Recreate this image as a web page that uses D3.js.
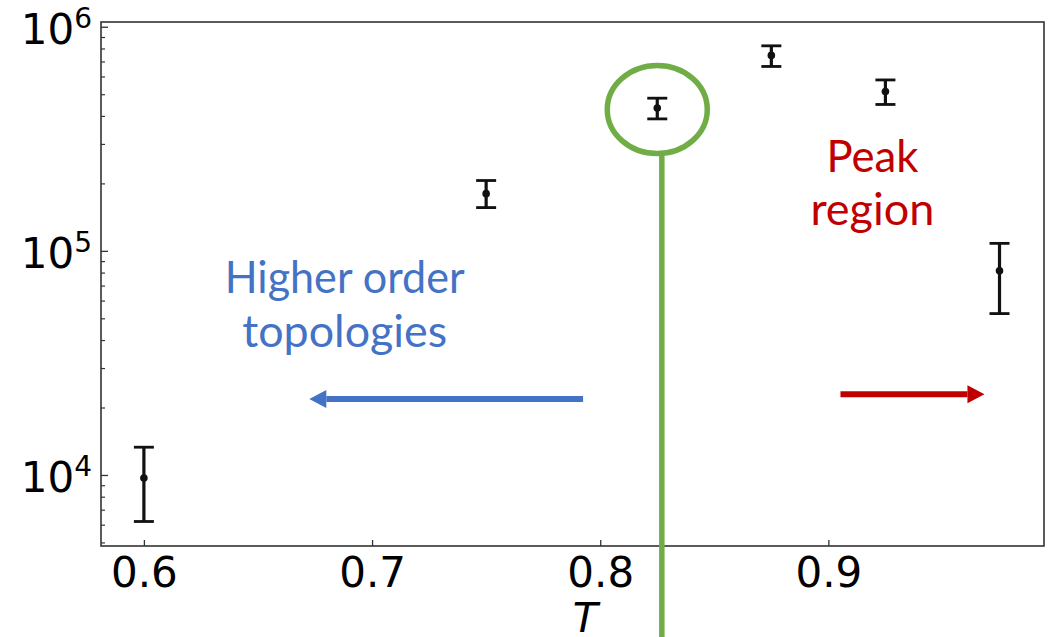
<!DOCTYPE html>
<html>
<head>
<meta charset="utf-8">
<script src="https://cdn.jsdelivr.net/npm/d3@7"></script>
<style>
  body { margin: 0; background: #fff; }
  svg { display: block; }
</style>
</head>
<body>
<div id="wrapper"></div>
<script>
// values
const temps = [0.6, 0.75, 0.825, 0.875, 0.925, 0.975];
const means = [9700, 180000, 434000, 745000, 514000, 81500];
const lows = [6200, 156000, 388000, 665000, 450000, 52500];
const highs = [13300, 206000, 480000, 822000, 579000, 108000];

const x_ticks = [0.6, 0.7, 0.8, 0.9];
const y_major = [1e4, 1e5, 1e6];
const y_exponents = ["4", "5", "6"];

// annotations, in data units
const highlight_T = 0.825;
const marker_line_T = 0.827;
const blue_arrow = { from: 0.7925, to: 0.6725, value: 21800 };
const red_arrow = { from: 0.9053, to: 0.9684, value: 22900 };
const blue_text = ["Higher order", "topologies"];
const red_text = ["Peak", "region"];

const dataset = temps.map((t, i) => ({ t: t, mean: means[i], low: lows[i], high: highs[i] }));

function drawChart() {
    const dimensions = {
        width: 1056,
        height: 637,
        margin: { top: 22, right: 12, bottom: 91, left: 101 }
    };
    dimensions.bounded_width = dimensions.width - dimensions.margin.left - dimensions.margin.right;
    dimensions.bounded_height = dimensions.height - dimensions.margin.top - dimensions.margin.bottom;

    const wrapper = d3.select("#wrapper")
        .append("svg")
        .attr("width", dimensions.width)
        .attr("height", dimensions.height);

    const bounds = wrapper.append("g")
        .attr("transform", `translate(${dimensions.margin.left},${dimensions.margin.top})`);

    const x_scale = d3.scaleLinear()
        .domain([0.5812, 0.9945])
        .range([0, dimensions.bounded_width]);

    const y_scale = d3.scaleLog()
        .domain([4820, 1.05e6])
        .range([dimensions.bounded_height, 0]);

    const tick_font = "'DejaVu Sans', sans-serif";
    const axis_color = "#333";

    // frame
    bounds.append("rect")
        .attr("width", dimensions.bounded_width)
        .attr("height", dimensions.bounded_height)
        .attr("fill", "none")
        .attr("stroke", axis_color)
        .attr("stroke-width", 1.6);

    // x axis, ticks pointing inward
    const x_axis = bounds.append("g")
        .attr("transform", `translate(0,${dimensions.bounded_height})`)
        .call(d3.axisBottom(x_scale).tickValues(x_ticks).tickSize(-6).tickPadding(11).tickFormat(d3.format(".1f")));
    x_axis.select(".domain").remove();
    x_axis.selectAll(".tick line").attr("stroke", axis_color).attr("stroke-width", 1.3);
    x_axis.selectAll(".tick text")
        .attr("fill", "#000")
        .style("font-family", tick_font)
        .style("font-size", "42px");

    x_axis.append("text")
        .attr("x", x_scale(0.7935))
        .attr("y", 86)
        .attr("fill", "#000")
        .attr("text-anchor", "middle")
        .style("font-family", tick_font)
        .style("font-size", "41px")
        .style("font-style", "italic")
        .text("T");

    // y axis, major + minor ticks pointing inward
    const minor_ticks = [];
    [1e3, 1e4, 1e5].forEach(decade => {
        for (let k = 2; k <= 9; k++) {
            const v = k * decade;
            if (v >= y_scale.domain()[0] && v <= y_scale.domain()[1]) minor_ticks.push(v);
        }
    });

    const y_minor = bounds.append("g")
        .call(d3.axisLeft(y_scale).tickValues(minor_ticks).tickSize(-4).tickFormat(""));
    y_minor.select(".domain").remove();
    y_minor.selectAll(".tick line").attr("stroke", axis_color).attr("stroke-width", 1.2);

    const y_axis = bounds.append("g")
        .call(d3.axisLeft(y_scale).tickValues(y_major).tickSize(-7).tickFormat(""));
    y_axis.select(".domain").remove();
    y_axis.selectAll(".tick line").attr("stroke", axis_color).attr("stroke-width", 1.3);

    y_axis.selectAll(".tick").each(function (d, i) {
        const label = d3.select(this).append("text")
            .attr("x", -9)
            .attr("y", 17)
            .attr("fill", "#000")
            .attr("text-anchor", "end")
            .style("font-family", tick_font)
            .style("font-size", "42px");
        label.append("tspan").text("10");
        label.append("tspan")
            .attr("dy", -16)
            .style("font-size", "28px")
            .text(y_exponents[i]);
    });

    // error bars
    const cap = 10;
    const bars = bounds.append("g")
        .selectAll("g")
        .data(dataset)
        .join("g")
        .attr("stroke", "#111")
        .attr("stroke-width", 3.2);
    bars.append("line")
        .attr("x1", d => x_scale(d.t))
        .attr("x2", d => x_scale(d.t))
        .attr("y1", d => y_scale(d.low))
        .attr("y2", d => y_scale(d.high));
    bars.append("line")
        .attr("x1", d => x_scale(d.t) - cap)
        .attr("x2", d => x_scale(d.t) + cap)
        .attr("y1", d => y_scale(d.low))
        .attr("y2", d => y_scale(d.low))
        .attr("stroke-width", 2.8);
    bars.append("line")
        .attr("x1", d => x_scale(d.t) - cap)
        .attr("x2", d => x_scale(d.t) + cap)
        .attr("y1", d => y_scale(d.high))
        .attr("y2", d => y_scale(d.high))
        .attr("stroke-width", 2.8);
    bounds.append("g")
        .selectAll("circle")
        .data(dataset)
        .join("circle")
        .attr("cx", d => x_scale(d.t))
        .attr("cy", d => y_scale(d.mean))
        .attr("r", 3.8)
        .attr("fill", "#111");

    // green highlight
    const green = "#70AD47";
    const hl = dataset.find(d => d.t === highlight_T);
    const ring_rx = 50, ring_ry = 44;
    const ring_cy = y_scale(hl.mean) + 1.5;
    bounds.append("ellipse")
        .attr("cx", x_scale(hl.t))
        .attr("cy", ring_cy)
        .attr("rx", ring_rx)
        .attr("ry", ring_ry)
        .attr("fill", "none")
        .attr("stroke", green)
        .attr("stroke-width", 5.5);
    bounds.append("line")
        .attr("x1", x_scale(marker_line_T))
        .attr("x2", x_scale(marker_line_T))
        .attr("y1", ring_cy + ring_ry)
        .attr("y2", dimensions.height - dimensions.margin.top)
        .attr("stroke", green)
        .attr("stroke-width", 5.5);

    // arrows
    function drawArrow(a, color) {
        const x0 = x_scale(a.from), x1 = x_scale(a.to), yy = y_scale(a.value);
        const dir = Math.sign(x1 - x0);
        const head = 17, half = 9;
        bounds.append("line")
            .attr("x1", x0)
            .attr("x2", x1 - dir * head)
            .attr("y1", yy)
            .attr("y2", yy)
            .attr("stroke", color)
            .attr("stroke-width", 6);
        bounds.append("path")
            .attr("d", `M${x1},${yy} L${x1 - dir * head},${yy - half} L${x1 - dir * head},${yy + half} Z`)
            .attr("fill", color);
    }
    drawArrow(blue_arrow, "#4472C4");
    drawArrow(red_arrow, "#C00000");

    // annotation text
    const note_font = "Lato, 'Open Sans', sans-serif";
    const blue_lines = bounds.append("g")
        .attr("fill", "#4472C4")
        .style("font-family", note_font)
        .style("font-size", "44px");
    blue_lines.append("text")
        .attr("x", x_scale(0.688))
        .attr("y", y_scale(64900))
        .attr("text-anchor", "middle")
        .attr("textLength", 240)
        .attr("lengthAdjust", "spacingAndGlyphs")
        .text(blue_text[0]);
    blue_lines.append("text")
        .attr("x", x_scale(0.688))
        .attr("y", y_scale(37300))
        .attr("text-anchor", "middle")
        .attr("textLength", 205)
        .attr("lengthAdjust", "spacingAndGlyphs")
        .text(blue_text[1]);

    const red_lines = bounds.append("g")
        .attr("fill", "#C00000")
        .style("font-family", note_font)
        .style("font-size", "44px");
    red_lines.append("text")
        .attr("x", x_scale(0.9193))
        .attr("y", y_scale(225000))
        .attr("text-anchor", "middle")
        .attr("textLength", 92)
        .attr("lengthAdjust", "spacingAndGlyphs")
        .text(red_text[0]);
    red_lines.append("text")
        .attr("x", x_scale(0.9193))
        .attr("y", y_scale(130600))
        .attr("text-anchor", "middle")
        .attr("textLength", 124)
        .attr("lengthAdjust", "spacingAndGlyphs")
        .text(red_text[1]);
}

drawChart();
</script>
</body>
</html>
